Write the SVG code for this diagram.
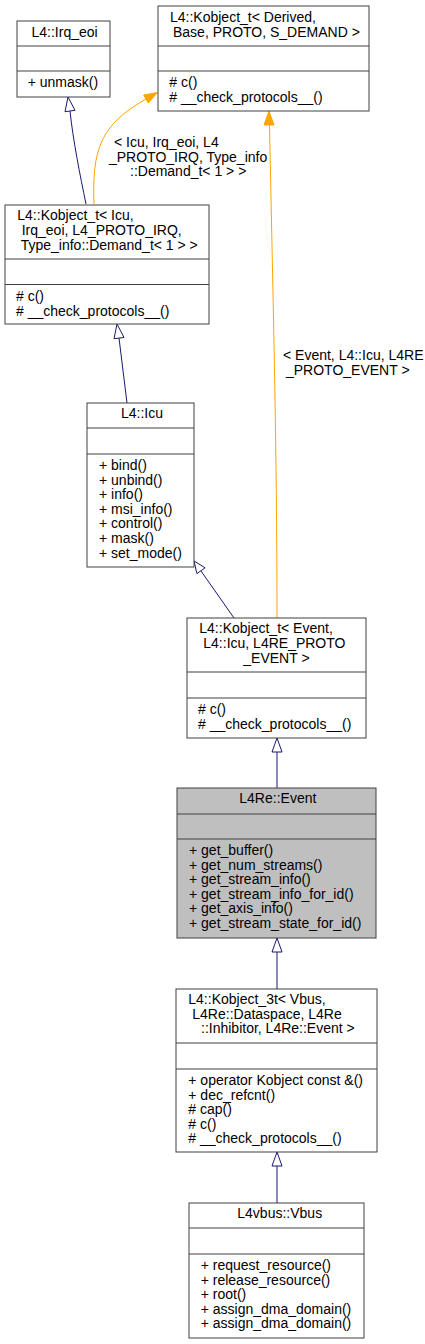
<svg xmlns="http://www.w3.org/2000/svg" width="425" height="1344" viewBox="0 0 425 1344">
<style>
.box{fill:#ffffff;stroke:#404040;stroke-width:1}
.sel{fill:#bfbfbf;stroke:#404040;stroke-width:1}
.sep{stroke:#404040;stroke-width:1}
text{font-family:"Liberation Sans",Arial,Helvetica,sans-serif;font-size:14px;fill:#000000}
.navy{fill:none;stroke:#191970;stroke-width:1}
.navyhead{fill:#ffffff;stroke:#191970;stroke-width:1}
.orange{fill:none;stroke:#ffa500;stroke-width:1}
.orangehead{fill:#ffa500;stroke:#ffa500;stroke-width:1}
</style>
<rect width="425" height="1344" fill="#ffffff"/>
<g id="connectors">
  <path class="navy" d="M86,204 C80,175 73,140 70,111"/>
  <polygon class="navyhead" points="68,97 75,110.3 65,111.7"/>
  <path class="orange" d="M94,204 C92,150 100,125 146,99"/>
  <polygon class="orangehead" points="157.5,92.5 148.3,102.9 143.7,95.1"/>
  <text x="114" y="147">&lt; Icu, Irq_eoi, L4</text>
  <text x="109" y="161.6">_PROTO_IRQ, Type_info</text>
  <text x="130" y="176">::Demand_t&lt; 1 &gt; &gt;</text>
  <path class="orange" d="M277,618 C277,450 273,300 269.5,125"/>
  <polygon class="orangehead" points="269,111 274,125 264,125"/>
  <text x="283" y="360">&lt; Event, L4::Icu, L4RE</text>
  <text x="286" y="374.6">_PROTO_EVENT &gt;</text>
  <path class="navy" d="M127,403 L119,338"/>
  <polygon class="navyhead" points="117,324 124,337.5 114,338.7"/>
  <path class="navy" d="M234,618 L201,571"/>
  <polygon class="navyhead" points="194,561 205.1,567.8 196.9,573.6"/>
  <path class="navy" d="M277,788 L277,752"/>
  <polygon class="navyhead" points="277,738 282,752 272,752"/>
  <path class="navy" d="M277,989 L277,952"/>
  <polygon class="navyhead" points="277,938 282,952 272,952"/>
  <path class="navy" d="M277,1203 L277,1166"/>
  <polygon class="navyhead" points="277,1152 282,1166 272,1166"/>
</g>
<g id="irq_eoi">
  <rect class="box" x="17" y="21" width="93" height="76"/>
  <line class="sep" x1="17" y1="46" x2="110" y2="46"/>
  <line class="sep" x1="17" y1="71" x2="110" y2="71"/>
  <text x="31.5" y="37">L4::Irq_eoi</text>
  <text x="27.7" y="87">+ unmask()</text>
</g>
<g id="kobject_t_derived">
  <rect class="box" x="158" y="6" width="211" height="105"/>
  <line class="sep" x1="158" y1="46" x2="369" y2="46"/>
  <line class="sep" x1="158" y1="71" x2="369" y2="71"/>
  <text x="170" y="22">L4::Kobject_t&lt; Derived,</text>
  <text x="173" y="36.5">Base, PROTO, S_DEMAND &gt;</text>
  <text x="169.3" y="87"># c()</text>
  <text x="169.3" y="102"># __check_protocols__()</text>
</g>
<g id="kobject_t_icu">
  <rect class="box" x="5" y="205" width="204" height="119"/>
  <line class="sep" x1="5" y1="259" x2="209" y2="259"/>
  <line class="sep" x1="5" y1="284.5" x2="209" y2="284.5"/>
  <text x="17.3" y="220">L4::Kobject_t&lt; Icu,</text>
  <text x="21.7" y="235">Irq_eoi, L4_PROTO_IRQ,</text>
  <text x="20.7" y="249.5">Type_info::Demand_t&lt; 1 &gt; &gt;</text>
  <text x="16" y="301"># c()</text>
  <text x="16" y="316"># __check_protocols__()</text>
</g>
<g id="icu">
  <rect class="box" x="87" y="403" width="107" height="164"/>
  <line class="sep" x1="87" y1="428" x2="194" y2="428"/>
  <line class="sep" x1="87" y1="454" x2="194" y2="454"/>
  <text x="121" y="418">L4::Icu</text>
  <text x="99" y="470">+ bind()</text>
  <text x="99" y="484.6">+ unbind()</text>
  <text x="99" y="499.2">+ info()</text>
  <text x="99" y="513.8">+ msi_info()</text>
  <text x="99" y="528.4">+ control()</text>
  <text x="99" y="543">+ mask()</text>
  <text x="99" y="557.6">+ set_mode()</text>
</g>
<g id="kobject_t_event">
  <rect class="box" x="187" y="618" width="179" height="120"/>
  <line class="sep" x1="187" y1="672" x2="366" y2="672"/>
  <line class="sep" x1="187" y1="698" x2="366" y2="698"/>
  <text x="199.3" y="633">L4::Kobject_t&lt; Event,</text>
  <text x="203.3" y="648">L4::Icu, L4RE_PROTO</text>
  <text x="243.3" y="662.5">_EVENT &gt;</text>
  <text x="198" y="714"># c()</text>
  <text x="198" y="728.6"># __check_protocols__()</text>
</g>
<g id="l4re_event">
  <rect class="sel" x="177" y="788" width="199" height="150"/>
  <line class="sep" x1="177" y1="814" x2="376" y2="814"/>
  <line class="sep" x1="177" y1="839" x2="376" y2="839"/>
  <text x="239.3" y="803">L4Re::Event</text>
  <text x="189" y="855">+ get_buffer()</text>
  <text x="189" y="869.6">+ get_num_streams()</text>
  <text x="189" y="884.2">+ get_stream_info()</text>
  <text x="189" y="898.8">+ get_stream_info_for_id()</text>
  <text x="189" y="913.4">+ get_axis_info()</text>
  <text x="189" y="928">+ get_stream_state_for_id()</text>
</g>
<g id="kobject_3t">
  <rect class="box" x="176" y="989" width="201" height="163"/>
  <line class="sep" x1="176" y1="1043" x2="377" y2="1043"/>
  <line class="sep" x1="176" y1="1069" x2="377" y2="1069"/>
  <text x="188.3" y="1004">L4::Kobject_3t&lt; Vbus,</text>
  <text x="192.3" y="1018.6">L4Re::Dataspace, L4Re</text>
  <text x="201" y="1033.2">::Inhibitor, L4Re::Event &gt;</text>
  <text x="188.3" y="1085">+ operator Kobject const &amp;()</text>
  <text x="188.3" y="1099.6">+ dec_refcnt()</text>
  <text x="188.3" y="1114.2"># cap()</text>
  <text x="188.3" y="1128.8"># c()</text>
  <text x="188.3" y="1143.4"># __check_protocols__()</text>
</g>
<g id="vbus">
  <rect class="box" x="189" y="1203" width="175" height="135"/>
  <line class="sep" x1="189" y1="1228" x2="364" y2="1228"/>
  <line class="sep" x1="189" y1="1254" x2="364" y2="1254"/>
  <text x="237.3" y="1218">L4vbus::Vbus</text>
  <text x="200.7" y="1270">+ request_resource()</text>
  <text x="200.7" y="1284.6">+ release_resource()</text>
  <text x="200.7" y="1299.2">+ root()</text>
  <text x="200.7" y="1313.8">+ assign_dma_domain()</text>
  <text x="200.7" y="1328.4">+ assign_dma_domain()</text>
</g>
</svg>
